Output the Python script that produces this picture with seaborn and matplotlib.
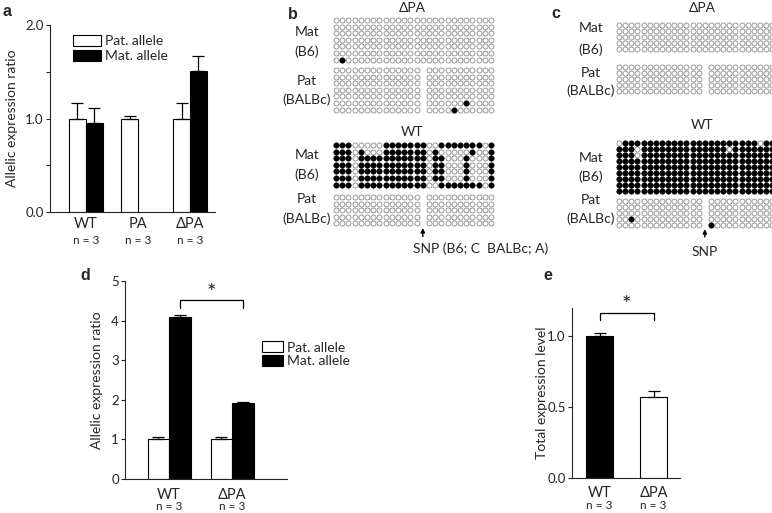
import numpy as np
import pandas as pd
import seaborn as sns
import matplotlib.pyplot as plt
import matplotlib.transforms as mtransforms
from matplotlib.container import BarContainer

sns.set_style("ticks")
plt.rcParams['font.family'] = ['Lato', 'DejaVu Sans']

# ---- data -------------------------------------------------------------
allele_order = ["Pat. allele", "Mat. allele"]
allele_colors = {"Pat. allele": "white", "Mat. allele": "black"}

# a: allelic expression ratio
a_geno = ["WT", "WT", "PA", "ΔPA", "ΔPA"]
a_allele = ["Pat. allele", "Mat. allele", "Pat. allele", "Pat. allele", "Mat. allele"]
a_ratio = [1.00, 0.95, 1.00, 1.00, 1.51]
a_sem = [0.17, 0.16, 0.03, 0.17, 0.16]
a_order = ["WT", "PA", "ΔPA"]
a_n = [3, 3, 3]

# d: allelic expression ratio
d_geno = ["WT", "WT", "ΔPA", "ΔPA"]
d_allele = ["Pat. allele", "Mat. allele", "Pat. allele", "Mat. allele"]
d_ratio = [1.00, 4.10, 1.00, 1.91]
d_sem = [0.07, 0.04, 0.07, 0.04]
d_order = ["WT", "ΔPA"]
d_n = [3, 3]

# e: total expression level
e_geno = ["WT", "ΔPA"]
e_level = [1.00, 0.57]
e_sem = [0.025, 0.045]
e_n = [3, 3]

# b/c: bisulfite clones, 1 = methylated CpG, 0 = unmethylated, "-" = SNP gap
b_dpa_mat = [
    "00000000000000000000000000",
    "00000000000000000000000000",
    "00000000000000000000000000",
    "00000000000000000000000000",
    "00000000000000000000000000",
    "00000000000000000000000000",
    "01000000000000000000000000",
]
b_dpa_pat = [
    "00000000000000-00000000000",
    "00000000000000-00000000000",
    "00000000000000-00000000000",
    "00000000000000-00000000000",
    "00000000000000-00000000000",
    "00000000000000-00000010000",
    "00000000000000-00001000000",
]
b_wt_mat = [
    "11100000111111100111111101",
    "11101000111111101000001001",
    "11101111111111101100010001",
    "11101111111111101100010001",
    "11101111111111101100010001",
    "11101111111111101100010001",
    "11101111111111100111111101",
]
b_wt_pat = [
    "00000000000000-00000000000",
    "00000000000000-00000000000",
    "00000000000000-00000000000",
    "00000000000000-00000000000",
    "00000000000000-00000000000",
]
c_dpa_mat = [
    "00000000000000000000000000",
    "00000000000000000000000000",
    "00000000000000000000000000",
    "00000000000000000000000000",
    "00000000000000000000000000",
]
c_dpa_pat = [
    "00000000000000-00000000000",
    "00000000000000-00000000000",
    "00000000000000-00000000000",
    "00000000000000-00000000000",
    "00000000000000-00000000000",
]
c_wt_mat = [
    "01111111111111111111111011",
    "11101111111111111101111111",
    "11101111111111111111111111",
    "11111111111111111111111111",
    "11111111111111111111111111",
    "11111111111111111111111111",
    "11111111111111111111111111",
    "11111111111111111111111111",
    "11111111111111111111111111",
]
c_wt_pat = [
    "00000000000000-00000000000",
    "00000000000000-00000000000",
    "00000000000000-00000000000",
    "00100000000000-00000000000",
    "00000000000000-10000000000",
]

# ---- figure ------------------------------------------------------------
W, H = 772, 513
fig = plt.figure(figsize=(W / 100, H / 100), dpi=100)


def px(l, t, r, b):
    return [l / W, 1 - b / H, (r - l) / W, (b - t) / H]


def ftxt(x, y, s, **kw):
    kw.setdefault('fontsize', 10)
    fig.text(x / W, 1 - y / H, s, ha=kw.pop('ha', 'center'), va='center', **kw)


def bar_conts(ax):
    return [c for c in ax.containers if isinstance(c, BarContainer)]


def add_errbars(ax, df, order, ycol, hue_order=None):
    for k, cont in enumerate(bar_conts(ax)):
        for bar in cont:
            xc = bar.get_x() + bar.get_width() / 2
            sel = df['geno'] == order[int(round(xc))]
            if hue_order is not None:
                sel &= df['allele'] == hue_order[k]
            row = df[sel].iloc[0]
            ax.errorbar(xc, row[ycol], yerr=[[0], [row['sem']]], fmt='none',
                        ecolor='black', elinewidth=0.9, capsize=4, capthick=0.9, zorder=3)


def style_ax(ax, ylabel, label_x, n, n_y, xpad):
    ax.set_xlabel('')
    ax.set_ylabel(ylabel, fontsize=10)
    ax.yaxis.set_label_coords(label_x, 0.5)
    ax.tick_params(axis='x', length=0, pad=xpad, labelsize=10.5)
    ax.tick_params(axis='y', which='both', length=3, width=0.8, labelsize=9.5, pad=1.5)
    sns.despine(ax=ax)
    for sp in ax.spines.values():
        sp.set_linewidth(0.8)
    tr = mtransforms.blended_transform_factory(ax.transData, ax.transAxes)
    for i, k in enumerate(n):
        ax.text(i, n_y, f"n = {k}", transform=tr, ha='center', va='center', fontsize=8.5)


def legend(ax, anchor, hl, ls):
    handles = [c[0] for c in bar_conts(ax)]
    ax.legend(handles, allele_order, loc='upper left', bbox_to_anchor=anchor,
              frameon=False, fontsize=10, handlelength=hl, handleheight=0.8,
              labelspacing=ls, handletextpad=0.3, borderpad=0, borderaxespad=0)


# panel a
df_a = pd.DataFrame({'geno': a_geno, 'allele': a_allele, 'ratio': a_ratio, 'sem': a_sem})
ax_a = fig.add_axes(px(50, 25, 215, 212))
sns.barplot(data=df_a, x='geno', y='ratio', hue='allele', order=a_order, hue_order=allele_order,
            palette=allele_colors, edgecolor='black', linewidth=0.8, width=0.65,
            errorbar=None, ax=ax_a)
legend(ax_a, (0.14, 0.945), 2.0, 0.2)
add_errbars(ax_a, df_a, a_order, 'ratio', allele_order)
ax_a.set_xlim(-0.69, 2.48)
ax_a.set_ylim(0, 2.0)
ax_a.set_yticks([0, 1, 2])
ax_a.set_yticklabels(['0.0', '1.0', '2.0'])
ax_a.set_yticks([0.5, 1.5], minor=True)
style_ax(ax_a, 'Allelic expression ratio', -0.194, a_n, -0.15, 3.6)

# panel d
df_d = pd.DataFrame({'geno': d_geno, 'allele': d_allele, 'ratio': d_ratio, 'sem': d_sem})
ax_d = fig.add_axes(px(125, 281, 287, 479))
sns.barplot(data=df_d, x='geno', y='ratio', hue='allele', order=d_order, hue_order=allele_order,
            palette=allele_colors, edgecolor='black', linewidth=0.8, width=0.68,
            errorbar=None, ax=ax_d)
legend(ax_d, (0.846, 0.695), 1.5, 0.12)
mat = list(bar_conts(ax_d)[1])
add_errbars(ax_d, df_d, d_order, 'ratio', allele_order)
ax_d.set_xlim(-0.70, 1.87)
ax_d.set_ylim(0, 5)
ax_d.set_yticks(range(6))
style_ax(ax_d, 'Allelic expression ratio', -0.136, d_n, -0.138, 6.5)
x1, x2 = [b.get_x() + b.get_width() / 2 for b in mat]
is_mat = df_d['allele'] == 'Mat. allele'
top = (df_d['ratio'][is_mat] + df_d['sem'][is_mat]).max() + 0.37
ax_d.plot([x1, x1, x2, x2], [top - 0.18, top, top, top - 0.18], color='black', lw=0.9)
ax_d.text((x1 + x2) / 2, top + 0.18, '*', ha='center', va='center', fontsize=16)

# panel e
df_e = pd.DataFrame({'geno': e_geno, 'level': e_level, 'sem': e_sem})
ax_e = fig.add_axes(px(572, 308, 680, 478))
sns.barplot(data=df_e, x='geno', y='level', hue='geno', order=e_geno, hue_order=e_geno,
            palette={'WT': 'black', 'ΔPA': 'white'}, edgecolor='black', linewidth=0.8,
            width=0.5, errorbar=None, legend=False, ax=ax_e)
add_errbars(ax_e, df_e, e_geno, 'level')
ax_e.set_xlim(-0.51, 1.49)
ax_e.set_ylim(0, 1.2)
ax_e.set_yticks([0, 0.5, 1.0])
ax_e.set_yticklabels(['0.0', '0.5', '1.0'])
style_ax(ax_e, 'Total expression level', -0.22, e_n, -0.16, 6.0)
top = max(l + s for l, s in zip(e_level, e_sem)) + 0.14
ax_e.plot([0, 0, 1, 1], [top - 0.05, top, top, top - 0.05], color='black', lw=0.9, clip_on=False)
ax_e.text(0.5, top + 0.055, '*', ha='center', va='center', fontsize=16, clip_on=False)


# panels b and c: methylation grids
def grid(rows, x0, y0, dx, dy, snp=None):
    nrow, ncol = len(rows), len(rows[0])
    ax = fig.add_axes(px(x0 - dx / 2, y0 - dy / 2, x0 + (ncol - 0.5) * dx, y0 + (nrow - 0.5) * dy))
    recs = [(c, r, int(ch)) for r, line in enumerate(rows) for c, ch in enumerate(line) if ch in '01']
    df = pd.DataFrame(recs, columns=['col', 'row', 'meth'])
    sns.scatterplot(data=df[df['meth'] == 0], x='col', y='row', s=13, color='white',
                    edgecolor='#8a8a8a', linewidth=0.6, legend=False, clip_on=False, ax=ax)
    sns.scatterplot(data=df[df['meth'] == 1], x='col', y='row', s=16, color='black',
                    edgecolor='black', linewidth=0.3, legend=False, clip_on=False, ax=ax)
    ax.set_xlim(-0.5, ncol - 0.5)
    ax.set_ylim(nrow - 0.5, -0.5)
    ax.axis('off')
    if snp is not None:
        g = rows[0].index('-')
        ax.annotate('', xy=(g, nrow - 0.3), xytext=(g, nrow + 1.0), annotation_clip=False,
                    arrowprops=dict(arrowstyle='-|>', color='black', lw=1.0, mutation_scale=6,
                                    shrinkA=0, shrinkB=0))
        text, shift, ha, ty = snp
        ax.text(g + shift, nrow + ty, text, ha=ha, va='center', fontsize=10, clip_on=False)
    return ax


grid(b_dpa_mat, 336, 20, 6.2, 6.6)
grid(b_dpa_pat, 336, 70, 6.2, 6.6)
grid(b_wt_mat, 336, 145, 6.2, 6.6)
grid(b_wt_pat, 336, 197, 6.2, 6.6, snp=('SNP (B6; C  BALBc; A)', -1.6, 'left', 2.8))
grid(c_dpa_mat, 619, 25, 6.13, 6.0)
grid(c_dpa_pat, 619, 67, 6.13, 6.0)
grid(c_wt_mat, 619, 143, 6.13, 6.0)
grid(c_wt_pat, 619, 201, 6.13, 6.0, snp=('SNP', 0, 'center', 3.5))

for x, lab in [(412, 'ΔPA'), (702, 'ΔPA')]:
    ftxt(x, 8, lab)
ftxt(412, 132, 'WT')
ftxt(702, 125, 'WT')
for y, lab in [(32, 'Mat'), (52, '(B6)'), (81, 'Pat'), (100, '(BALBc)'),
               (155, 'Mat'), (175, '(B6)'), (199, 'Pat'), (219, '(BALBc)')]:
    ftxt(307, y, lab)
for y, lab in [(28, 'Mat'), (50, '(B6)'), (73, 'Pat'), (91, '(BALBc)'),
               (158, 'Mat'), (177, '(B6)'), (200, 'Pat'), (219, '(BALBc)')]:
    ftxt(591, y, lab)

for x, y, lab in [(7, 12, 'a'), (293, 15, 'b'), (556, 13, 'c'), (85, 275, 'd'), (548, 275, 'e')]:
    ftxt(x, y, lab, fontsize=11.5, fontweight='bold', family='Liberation Sans')

fig.savefig('out.png', dpi=100)
